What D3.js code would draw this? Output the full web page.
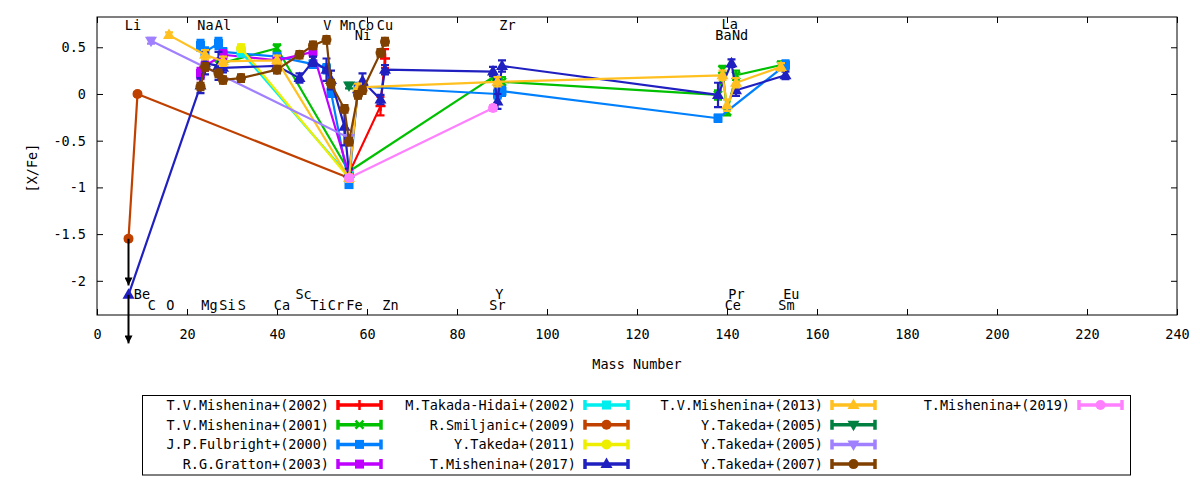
<!DOCTYPE html>
<html><head><meta charset="utf-8">
<script src="https://cdn.jsdelivr.net/npm/d3@7"></script>
<style>
body{margin:0;background:#fff}
text{font-family:"DejaVu Sans Mono",monospace;font-size:13.5px;fill:#000}
</style>
</head><body>
<svg id="c" width="1200" height="480"></svg>
<script>
// ---------- data ----------
const xTicks = [0,20,40,60,80,100,120,140,160,180,200,220,240];
const yTicks = [-2,-1.5,-1,-0.5,0,0.5];

// [mass number, [X/Fe], error]
const mishenina2002 = [[56,-0.85,0.04],[63,-0.13,0.1],[64,0.38,0.1]];
const mishenina2001 = [[27,0.32,0.04],[40,0.49,0.04],[56,-0.83,0.04],[88,0.18,0.05],[89,0.13,0.05],[90,0.13,0.05],[138,-0.01,0.05],[139,0.26,0.04],[140,-0.19,0.04],[142,0.20,0.05],[152,0.31,0.04]];
const fulbright2000 = [[23,0.52,0.06],[24,0.45,0.05],[27,0.54,0.06],[28,0.45,0.04],[40,0.40,0.04],[48,0.32,0.04],[51,0.27,0.05],[52,0.02,0.05],[56,-0.97,0.03],[58,0.08,0.04],[89,0.0,0.05],[90,0.03,0.05],[138,-0.26,0.04],[153,0.31,0.05]];
const gratton2003 = [[23,0.22,0.06],[24,0.30,0.05],[28,0.42,0.05],[40,0.36,0.04],[48,0.45,0.05],[56,-0.86,0.04]];
const takadaHidai2002 = [[32,0.45,0.05],[56,-0.88,0.04]];
const smiljanic2009 = [[7,-1.55,0.02],[9,0.0,0.02],[56,-0.90,0.03]];
const takeda2011 = [[32,0.49,0.04],[56,-0.90,0.04]];
const mishenina2017 = [[7,-2.15,0],[23,0.09,0.08],[24,0.33,0.12],[27,0.30,0.15],[28,0.28,0.05],[40,0.30,0.05],[45,0.17,0.05],[48,0.35,0.05],[51,0.26,0.12],[52,0.15,0.10],[55,-0.35,0.2],[56,-0.85,0.05],[58,0.05,0.05],[59,0.14,0.08],[63,-0.06,0.05],[64,0.26,0.05],[88,0.24,0.05],[89,-0.08,0.08],[90,0.30,0.06],[138,-0.01,0.13],[141,0.33,0.04],[142,0.04,0.06],[153,0.20,0.04]];
const mishenina2013 = [[16,0.63,0.03],[24,0.42,0.05],[28,0.35,0.05],[40,0.36,0.05],[56,-0.90,0.04],[58,0.07,0.04],[89,0.13,0.05],[139,0.20,0.05],[140,-0.12,0.06],[142,0.12,0.05],[152,0.29,0.04]];
const takeda2005a = [[56,0.09,0.03]];
const takeda2005b = [[12,0.57,0.03],[56,-0.47,0.03]];
const takeda2007 = [[23,0.08,0.04],[24,0.29,0.04],[27,0.22,0.04],[28,0.15,0.04],[32,0.17,0.04],[40,0.26,0.04],[45,0.42,0.04],[48,0.52,0.04],[51,0.58,0.04],[52,0.11,0.04],[55,-0.16,0.04],[56,-0.51,0.04],[58,-0.01,0.04],[59,0.04,0.04],[63,0.44,0.04],[64,0.56,0.04]];
const mishenina2019 = [[56,-0.90,0.03],[88,-0.15,0.03]];

const seriesNames = ["T.V.Mishenina+(2002)","T.V.Mishenina+(2001)","J.P.Fulbright+(2000)","R.G.Gratton+(2003)",
  "M.Takada-Hidai+(2002)","R.Smiljanic+(2009)","Y.Takeda+(2011)","T.Mishenina+(2017)",
  "T.V.Mishenina+(2013)","Y.Takeda+(2005)","Y.Takeda+(2005)","Y.Takeda+(2007)","T.Mishenina+(2019)"];
const seriesColors = ["#ff0000","#00c000","#0080ff","#c000ff","#00eeee","#c04000","#eeee00","#2020c0",
  "#ffc020","#008040","#a080ff","#804000","#ff80ff"];
const seriesMarkers = ["plus","cross","square","square","square","circle","circle","triangle",
  "triangle","invtri","invtri","circle","circle"];
const seriesData = [mishenina2002,mishenina2001,fulbright2000,gratton2003,takadaHidai2002,smiljanic2009,
  takeda2011,mishenina2017,mishenina2013,takeda2005a,takeda2005b,takeda2007,mishenina2019];

// upper limits: [mass, from, to]
const limitArrows = [[7,-1.55,-2.05],[7,-2.15,-2.67]];

// element labels
const labelNames = ["Li","Na","Al","V","Mn","Co","Cu","Zr","La","Ni","Ba","Nd",
  "Be","Sc","Y","Pr","Eu","C","O","Mg","Si","S","Ca","Ti","Cr","Fe","Zn","Sr","Ce","Sm"];
const labelMass = [8.0,24.1,28.0,51.2,55.8,59.8,64.0,91.2,140.6,59.1,139.2,142.9,
  10.0,45.9,89.4,142.1,154.3,12.2,16.3,25.0,29.0,32.2,41.1,49.2,53.1,57.2,65.2,89.0,141.3,153.2];
const labelVal = [0.74,0.74,0.74,0.74,0.74,0.74,0.74,0.74,0.75,0.63,0.63,0.63,
  -2.14,-2.14,-2.14,-2.14,-2.14,-2.26,-2.26,-2.26,-2.26,-2.26,-2.26,-2.26,-2.26,-2.26,-2.26,-2.26,-2.26,-2.26];

// ---------- chart ----------
const svg = d3.select("#c");
const L=97,R=1177,T=17,B=315;
const x = d3.scaleLinear().domain([0,240]).range([L,R]);
const y = d3.scaleLinear().domain([-2.366,0.824]).range([B,T]);

function styleAxis(g){
  g.select(".domain").remove();
  g.selectAll(".tick line").attr("stroke","#000").attr("stroke-width",1);
  g.selectAll("text").attr("fill","#000").style("font-family",'"DejaVu Sans Mono",monospace').style("font-size","13.5px");
}
svg.append("g").attr("transform",`translate(0,${B})`)
  .call(d3.axisBottom(x).tickValues(xTicks).tickSizeInner(-6).tickSizeOuter(0).tickPadding(14).tickFormat(d=>String(d)))
  .call(styleAxis);
svg.append("g").attr("transform",`translate(0,${T})`)
  .call(d3.axisTop(x).tickValues(xTicks).tickSizeInner(-6).tickSizeOuter(0).tickFormat(""))
  .call(styleAxis);
svg.append("g").attr("transform",`translate(${L},0)`)
  .call(d3.axisLeft(y).tickValues(yTicks).tickSizeInner(-6).tickSizeOuter(0).tickPadding(11).tickFormat(d=>String(d)))
  .call(styleAxis);
svg.append("g").attr("transform",`translate(${R},0)`)
  .call(d3.axisRight(y).tickValues(yTicks).tickSizeInner(-6).tickSizeOuter(0).tickFormat(""))
  .call(styleAxis);
svg.append("rect").attr("x",L).attr("y",T).attr("width",R-L).attr("height",B-T)
  .attr("fill","none").attr("stroke","#000").attr("stroke-width",1);

svg.append("text").attr("x",(L+R)/2).attr("y",369).attr("text-anchor","middle").text("Mass Number");
svg.append("text").attr("transform",`translate(37,${(T+B)/2+2}) rotate(-90)`).attr("text-anchor","middle").text("[X/Fe]");

// element labels
svg.append("g").selectAll("text").data(labelNames).join("text")
  .attr("x",(d,i)=>x(labelMass[i])).attr("y",(d,i)=>y(labelVal[i])).attr("dy","0.36em")
  .attr("text-anchor","middle").text(d=>d);

function marker(g,type,cx,cy,color){
  if(type==="plus"){
    g.append("path").attr("d",`M${cx-5},${cy}H${cx+5}M${cx},${cy-5}V${cy+5}`).attr("stroke",color).attr("stroke-width",2.5).attr("fill","none");
  } else if(type==="cross"){
    g.append("path").attr("d",`M${cx-4},${cy-4}L${cx+4},${cy+4}M${cx-4},${cy+4}L${cx+4},${cy-4}`).attr("stroke",color).attr("stroke-width",2.5).attr("fill","none");
  } else if(type==="square"){
    g.append("rect").attr("x",cx-4.5).attr("y",cy-4.5).attr("width",9).attr("height",9).attr("fill",color);
  } else if(type==="circle"){
    g.append("circle").attr("cx",cx).attr("cy",cy).attr("r",5).attr("fill",color);
  } else if(type==="triangle"){
    g.append("path").attr("d",`M${cx},${cy-6.5}L${cx+6},${cy+4}L${cx-6},${cy+4}Z`).attr("fill",color);
  } else if(type==="invtri"){
    g.append("path").attr("d",`M${cx},${cy+6.5}L${cx+6},${cy-4}L${cx-6},${cy-4}Z`).attr("fill",color);
  }
}

const line = d3.line().x(d=>x(d[0])).y(d=>y(d[1]));
const plot = svg.append("g");
seriesData.forEach((data,i)=>{
  const col = seriesColors[i];
  const g = plot.append("g");
  g.append("path").attr("d",line(data)).attr("fill","none").attr("stroke",col).attr("stroke-width",2.2).attr("stroke-linejoin","round");
  data.forEach(d=>{
    if(d[2]>0){
      const cx=x(d[0]), y1=y(d[1]-d[2]), y2=y(d[1]+d[2]);
      g.append("path").attr("d",`M${cx},${y1}V${y2}M${cx-4},${y1}H${cx+4}M${cx-4},${y2}H${cx+4}`)
        .attr("stroke",col).attr("stroke-width",2.2).attr("fill","none");
    }
  });
  data.forEach(d=>marker(g,seriesMarkers[i],x(d[0]),y(d[1]),col));
});

// arrows for upper limits
svg.append("defs").append("marker").attr("id","ah").attr("viewBox","0 0 10 10").attr("refX",10).attr("refY",5)
  .attr("markerWidth",4).attr("markerHeight",4).attr("markerUnits","strokeWidth").attr("orient","auto")
  .append("path").attr("d","M0,0L10,5L0,10Z").attr("fill","#000");
svg.append("g").selectAll("line").data(limitArrows).join("line")
  .attr("x1",d=>x(d[0])).attr("x2",d=>x(d[0])).attr("y1",d=>y(d[1])).attr("y2",d=>y(d[2]))
  .attr("stroke","#000").attr("stroke-width",2).attr("marker-end","url(#ah)");

// legend
const lg = svg.append("g");
lg.append("rect").attr("x",142.5).attr("y",395.5).attr("width",988).attr("height",79.5).attr("fill","none").attr("stroke","#000");
seriesNames.forEach((nm,i)=>{
  const c=Math.floor(i/4), r=i%4;
  const tx=329+247*c, ty=405+19.7*r;
  const col=seriesColors[i];
  lg.append("text").attr("x",tx).attr("y",ty).attr("dy","0.36em").attr("text-anchor","end").text(nm);
  const x1=tx+9, x2=tx+52;
  lg.append("path").attr("d",`M${x1},${ty}H${x2}M${x1},${ty-5}V${ty+5}M${x2},${ty-5}V${ty+5}`)
    .attr("stroke",col).attr("stroke-width",3.5).attr("fill","none");
  marker(lg,seriesMarkers[i],(x1+x2)/2,ty,col);
});
</script>
</body></html>
